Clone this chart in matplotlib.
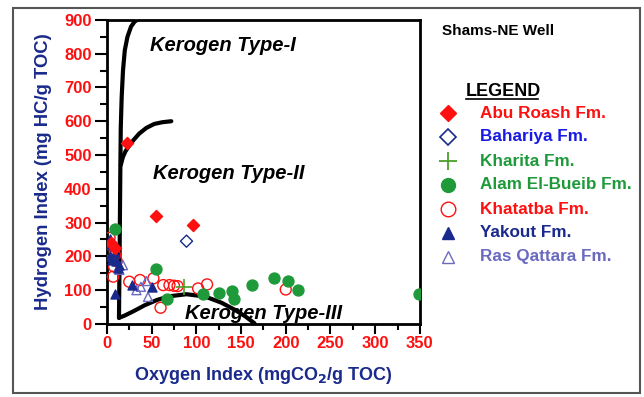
import matplotlib
matplotlib.use("Agg")
import matplotlib.pyplot as plt
from matplotlib.patches import Rectangle
from matplotlib.ticker import MultipleLocator

plt.rcParams['font.family'] = ['Liberation Sans', 'DejaVu Sans']

# kerogen type boundary curves (OI, HI)
type1_x = [13.5, 14, 14.5, 15, 15.5, 16.5, 18, 20, 23, 27, 31, 34]
type1_y = [18, 150, 300, 450, 580, 670, 750, 810, 850, 880, 895, 900]
type2_x = [15.5, 18, 21, 25, 30, 36, 44, 53, 62, 72]
type2_y = [470, 495, 512, 528, 545, 563, 580, 592, 597, 600]
type3_x = [13.5, 20, 30, 42, 56, 70, 89, 110, 128, 143, 155, 165]
type3_y = [18, 25, 38, 55, 71, 82, 88, 81, 63, 42, 22, 2]

# samples by formation (OI, HI)
abu_x = [23, 55, 96, 5, 9]
abu_y = [537, 320, 292, 240, 225]
bah_x = [89]
bah_y = [245]
kha_x = [86]
kha_y = [108]
alam_x = [9, 55, 67, 108, 125, 140, 142, 162, 187, 203, 214, 349]
alam_y = [282, 164, 73, 90, 92, 98, 75, 114, 135, 128, 100, 88]
khat_x = [3, 6, 9, 7, 11, 25, 37, 52, 60, 63, 70, 75, 79, 102, 112, 200, 4, 8]
khat_y = [255, 230, 205, 140, 186, 125, 130, 135, 48, 115, 115, 113, 112, 105, 117, 102, 215, 170]
yak_x = [3, 5, 7, 9, 4, 6, 10, 12, 9, 28, 50, 13]
yak_y = [250, 235, 240, 210, 200, 190, 185, 165, 90, 115, 108, 175]
ras_x = [18, 33, 46, 44, 14, 38]
ras_y = [174, 100, 80, 127, 160, 110]

labels = ["Abu Roash Fm.", "Bahariya Fm.", "Kharita Fm.", "Alam El-Bueib Fm.",
          "Khatatba Fm.", "Yakout Fm.", "Ras Qattara Fm."]
label_colors = ["#ff1010", "#1a1ae6", "#1f9a3a", "#1f9a3a", "#ff1010", "#1a2a8c", "#6a6ac0"]

navy = "#1a2a8c"
red = "#ff1010"
green = "#1f9a3a"

fig = plt.figure(figsize=(6.44, 3.97), dpi=100)
ax = fig.add_axes([0.166, 0.184, 0.486, 0.766])

for cx, cy in [(type1_x, type1_y), (type2_x, type2_y), (type3_x, type3_y)]:
    ax.plot(cx, cy, color='black', lw=3, solid_capstyle='round',
            solid_joinstyle='round', zorder=2)

ax.scatter(khat_x, khat_y, marker='o', s=62, facecolors='none', edgecolors=red, linewidths=1, zorder=3)
ax.scatter(ras_x, ras_y, marker='^', s=42, facecolors='none', edgecolors="#6a6ac0", linewidths=1, zorder=3)
ax.scatter(alam_x, alam_y, marker='o', s=62, color=green, zorder=4)
ax.scatter(yak_x, yak_y, marker='^', s=42, color=navy, zorder=4)
ax.scatter(abu_x, abu_y, marker='D', s=38, color=red, zorder=5)
ax.scatter(bah_x, bah_y, marker='D', s=38, facecolors='none', edgecolors=navy, linewidths=1, zorder=5)
ax.scatter(kha_x, kha_y, marker='+', s=130, color="#4aa02a", linewidths=1.2, zorder=5)

ax.set_xlim(0, 350)
ax.set_ylim(0, 900)
ax.xaxis.set_major_locator(MultipleLocator(50))
ax.xaxis.set_minor_locator(MultipleLocator(25))
ax.yaxis.set_major_locator(MultipleLocator(100))
ax.yaxis.set_minor_locator(MultipleLocator(50))
ax.tick_params(which='major', direction='out', length=7, width=1.5, labelsize=12,
               labelcolor=red, pad=2)
ax.tick_params(which='minor', direction='out', length=4, width=1.5)
ax.tick_params(axis='y', which='major', length=9)
ax.tick_params(axis='y', which='minor', length=5)
for t in ax.get_xticklabels() + ax.get_yticklabels():
    t.set_fontweight('bold')
for sp in ax.spines.values():
    sp.set_linewidth(2)

ax.set_xlabel("Oxygen Index (mgCO$_\\mathbf{2}$/g TOC)", fontsize=13, fontweight='bold',
              color=navy, labelpad=10)
ax.set_ylabel("Hydrogen Index (mg HC/g TOC)", fontsize=13.3, fontweight='bold',
              color=navy, labelpad=9)

ax.text(48, 823, "Kerogen Type-I", fontsize=14.5, fontweight='bold', style='italic', va='center')
ax.text(52, 445, "Kerogen Type-II", fontsize=14.5, fontweight='bold', style='italic', va='center')
ax.text(87, 30, "Kerogen Type-III", fontsize=14.5, fontweight='bold', style='italic', va='center')

# legend panel
fig.text(442 / 644, 1 - 31 / 397, "Shams-NE Well", fontsize=11, fontweight='bold', va='center')
fig.text(466 / 644, 1 - 91 / 397, "LEGEND", fontsize=13, fontweight='bold', va='center')
fig.add_artist(plt.Line2D([466 / 644, 538 / 644], [1 - 99 / 397, 1 - 99 / 397],
                          color='black', lw=1.2))
mk = [dict(marker='D', color=red, ms=8),
      dict(marker='D', mfc='none', mec=navy, ms=8, mew=1.2),
      dict(marker='+', color="#4aa02a", ms=13, mew=1.3),
      dict(marker='o', color=green, ms=10),
      dict(marker='o', mfc='none', mec=red, ms=10.5, mew=1),
      dict(marker='^', color=navy, ms=8.5),
      dict(marker='^', mfc='none', mec="#6a6ac0", ms=8.5, mew=1)]
for i, (lab, col) in enumerate(zip(labels, label_colors)):
    yy = 1 - (113 + i * 24) / 397
    fig.add_artist(plt.Line2D([448 / 644], [yy], linestyle='none', **mk[i]))
    fig.text(480 / 644, yy, lab, fontsize=12.3, fontweight='bold', color=col, va='center')

fig.add_artist(Rectangle((13 / 644, 1 - 393 / 397), 627 / 644, 385 / 397,
                         fill=False, edgecolor='#555555', lw=1.5, transform=fig.transFigure))

fig.savefig("out.png", dpi=100)
